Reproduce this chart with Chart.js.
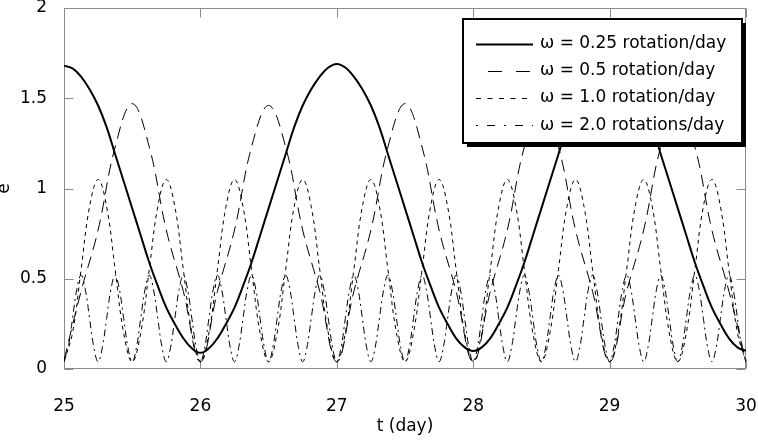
<!DOCTYPE html>
<html lang="en">
<head>
<meta charset="utf-8">
<title>e vs t for four rotation rates</title>
<script src="https://cdn.jsdelivr.net/npm/chart.js"></script>
<style>
  html,body{margin:0;padding:0;background:#fff;}
  #wrap{width:758px;height:446px;overflow:hidden;}
</style>
</head>
<body>
<div id="wrap"><canvas id="c" width="758" height="446"></canvas></div>
<script>
/* ── data ──────────────────────────────────────────────────── */
const T_START = 25;

// ω = 0.25 rotation/day, one value every 1/16 day
const STEP_025 = 0.0625;
const omega025 = [
  1.68, 1.665, 1.62, 1.55, 1.46, 1.34, 1.19, 1.04,
  0.89, 0.74, 0.59, 0.46, 0.34, 0.25, 0.17, 0.115,
  0.09, 0.115, 0.17, 0.25, 0.34, 0.46, 0.59, 0.74,
  0.89, 1.04, 1.19, 1.34, 1.46, 1.55, 1.62, 1.67,
  1.69, 1.67, 1.62, 1.55, 1.46, 1.34, 1.19, 1.04,
  0.89, 0.74, 0.59, 0.46, 0.34, 0.25, 0.17, 0.12,
  0.10, 0.12, 0.17, 0.25, 0.34, 0.46, 0.59, 0.74,
  0.89, 1.04, 1.19, 1.34, 1.46, 1.55, 1.62, 1.665,
  1.68, 1.665, 1.62, 1.55, 1.46, 1.34, 1.19, 1.04,
  0.89, 0.74, 0.59, 0.46, 0.34, 0.25, 0.17, 0.12,
  0.10
];

// ω = 0.5 rotation/day, every 1/8 day
const STEP_05 = 0.125;
const omega05 = [
  0.05, 0.43, 0.77, 1.23, 1.47, 1.23, 0.77, 0.43,
  0.04, 0.43, 0.77, 1.23, 1.46, 1.23, 0.77, 0.43,
  0.04, 0.43, 0.77, 1.23, 1.47, 1.23, 0.77, 0.43,
  0.04, 0.43, 0.77, 1.23, 1.46, 1.23, 0.77, 0.43,
  0.04, 0.43, 0.77, 1.23, 1.46, 1.23, 0.77, 0.43,
  0.04
];

// ω = 1.0 rotation/day, every 1/16 day
const STEP_1 = 0.0625;
const omega1 = [
  0.04, 0.20, 0.55, 0.90, 1.05, 0.90, 0.55, 0.20,
  0.04, 0.20, 0.55, 0.90, 1.05, 0.90, 0.55, 0.20,
  0.04, 0.20, 0.55, 0.90, 1.05, 0.90, 0.55, 0.20,
  0.04, 0.20, 0.55, 0.90, 1.05, 0.90, 0.55, 0.20,
  0.04, 0.20, 0.55, 0.90, 1.05, 0.90, 0.55, 0.20,
  0.04, 0.20, 0.55, 0.90, 1.05, 0.90, 0.55, 0.20,
  0.04, 0.20, 0.55, 0.90, 1.05, 0.90, 0.55, 0.20,
  0.04, 0.20, 0.55, 0.90, 1.05, 0.90, 0.55, 0.20,
  0.04, 0.20, 0.55, 0.90, 1.05, 0.90, 0.55, 0.20,
  0.04, 0.20, 0.55, 0.90, 1.05, 0.90, 0.55, 0.20,
  0.04
];

// ω = 2.0 rotations/day, every 1/32 day
const STEP_2 = 0.03125;
const omega2 = [
  0.04, 0.12, 0.28, 0.44, 0.52, 0.44, 0.28, 0.12,
  0.04, 0.12, 0.28, 0.44, 0.52, 0.44, 0.28, 0.12,
  0.04, 0.12, 0.28, 0.44, 0.52, 0.44, 0.28, 0.12,
  0.04, 0.12, 0.28, 0.44, 0.52, 0.44, 0.28, 0.12,
  0.04, 0.12, 0.28, 0.44, 0.52, 0.44, 0.28, 0.12,
  0.04, 0.12, 0.28, 0.44, 0.52, 0.44, 0.28, 0.12,
  0.04, 0.12, 0.28, 0.44, 0.52, 0.44, 0.28, 0.12,
  0.04, 0.12, 0.28, 0.44, 0.52, 0.44, 0.28, 0.12,
  0.04, 0.12, 0.28, 0.44, 0.52, 0.44, 0.28, 0.12,
  0.04, 0.12, 0.28, 0.44, 0.52, 0.44, 0.28, 0.12,
  0.04, 0.12, 0.28, 0.44, 0.52, 0.44, 0.28, 0.12,
  0.04, 0.12, 0.28, 0.44, 0.52, 0.44, 0.28, 0.12,
  0.04, 0.12, 0.28, 0.44, 0.52, 0.44, 0.28, 0.12,
  0.04, 0.12, 0.28, 0.44, 0.52, 0.44, 0.28, 0.12,
  0.04, 0.12, 0.28, 0.44, 0.52, 0.44, 0.28, 0.12,
  0.04, 0.12, 0.28, 0.44, 0.52, 0.44, 0.28, 0.12,
  0.04, 0.12, 0.28, 0.44, 0.52, 0.44, 0.28, 0.12,
  0.04, 0.12, 0.28, 0.44, 0.52, 0.44, 0.28, 0.12,
  0.04, 0.12, 0.28, 0.44, 0.52, 0.44, 0.28, 0.12,
  0.04, 0.12, 0.28, 0.44, 0.52, 0.44, 0.28, 0.12,
  0.04
];

const labels = [
  'ω = 0.25 rotation/day',
  'ω = 0.5 rotation/day',
  'ω = 1.0 rotation/day',
  'ω = 2.0 rotations/day'
];

const X_MIN = 25, X_MAX = 30, X_STEP = 1;
const Y_MIN = 0,  Y_MAX = 2,  Y_STEP = 0.5;

/* ── helpers ───────────────────────────────────────────────── */
function toPoints(vals, step){
  return vals.map((v,i) => ({x: T_START + i*step, y: v}));
}

const FONT = 'DejaVu Sans';
const TICK = 9;          // inward tick length
const AXIS_GREY = '#8a8a8a';

// chart.js adds tick padding to the scale's own edge padding; drop it
function noEdgePad(s){
  s.paddingTop = s.paddingBottom = s.paddingLeft = s.paddingRight = 0;
}

/* frame + inward ticks, MATLAB style */
const framePlugin = {
  id: 'frame',
  beforeDatasetsDraw(chart){
    const {ctx, chartArea: a, scales: {x, y}} = chart;
    ctx.save();
    ctx.strokeStyle = AXIS_GREY;
    ctx.lineWidth = 1;
    const L = Math.round(a.left)+0.5, R = Math.round(a.right)-0.5;
    const T = Math.round(a.top)+0.5,  B = Math.round(a.bottom)-0.5;
    ctx.strokeRect(L, T, R-L, B-T);
    ctx.beginPath();
    x.ticks.forEach(t => {
      const px = Math.round(x.getPixelForValue(t.value))+0.5;
      ctx.moveTo(px, B); ctx.lineTo(px, B-TICK);
      ctx.moveTo(px, T); ctx.lineTo(px, T+TICK);
    });
    y.ticks.forEach(t => {
      const py = Math.round(y.getPixelForValue(t.value))+0.5;
      ctx.moveTo(L, py); ctx.lineTo(L+TICK, py);
      ctx.moveTo(R, py); ctx.lineTo(R-TICK, py);
    });
    ctx.stroke();
    ctx.restore();
  }
};

/* boxed legend with drop shadow, top right */
const legendPlugin = {
  id: 'boxLegend',
  afterDraw(chart){
    const {ctx} = chart;
    const bx = 463, by = 19, bw = 279, bh = 124, sh = 4;
    ctx.save();
    ctx.fillStyle = '#000';
    ctx.fillRect(bx+sh, by+sh, bw, bh);
    ctx.fillStyle = '#fff';
    ctx.fillRect(bx, by, bw, bh);
    ctx.strokeStyle = '#000';
    ctx.lineWidth = 2;
    ctx.strokeRect(bx, by, bw, bh);

    ctx.font = '17px "' + FONT + '"';
    ctx.textBaseline = 'middle';
    ctx.textAlign = 'left';
    chart.data.datasets.forEach((ds, i) => {
      const yy = 43.5 + i*27.2;
      ctx.beginPath();
      ctx.setLineDash(ds.legendDash || []);
      ctx.lineDashOffset = ds.legendDashOffset || 0;
      ctx.lineWidth = ds.borderWidth;
      ctx.strokeStyle = ds.borderColor;
      ctx.moveTo(476, Math.round(yy)+0.5);
      ctx.lineTo(533, Math.round(yy)+0.5);
      ctx.stroke();
      ctx.setLineDash([]);
      ctx.fillStyle = '#000';
      ctx.fillText(ds.label, 540, yy);
    });
    ctx.restore();
  }
};

/* ── chart ─────────────────────────────────────────────────── */
const common = {
  borderColor: '#000',
  pointRadius: 0,
  fill: false,
  tension: 0.4
};

new Chart(document.getElementById('c'), {
  type: 'line',
  data: {
    datasets: [
      {...common, label: labels[0], data: toPoints(omega025, STEP_025), borderWidth: 2},
      {...common, label: labels[1], data: toPoints(omega05, STEP_05), borderWidth: 1,
       borderDash: [12,7], legendDash: [14,14], legendDashOffset: 16},
      {...common, label: labels[2], data: toPoints(omega1, STEP_1), borderWidth: 1,
       borderDash: [4,4], legendDash: [5,6.5]},
      {...common, label: labels[3], data: toPoints(omega2, STEP_2), borderWidth: 1,
       borderDash: [7,4,2,4], legendDash: [2,9,8,9]}
    ]
  },
  options: {
    responsive: false,
    animation: false,
    events: [],
    layout: {padding: {top: 8, right: 12, left: 0, bottom: 0}},
    plugins: {legend: {display: false}, tooltip: {enabled: false}},
    scales: {
      x: {
        type: 'linear', min: X_MIN, max: X_MAX,
        grid: {display: false, drawTicks: false},
        border: {display: false},
        ticks: {stepSize: X_STEP, padding: 27, color: '#000',
                font: {family: FONT, size: 17}, maxRotation: 0},
        title: {display: true, text: 't (day)', color: '#000',
                font: {family: FONT, size: 17}, padding: {top: 0, bottom: 9}},
        afterFit: s => { s.height = 77; noEdgePad(s); }
      },
      y: {
        type: 'linear', min: Y_MIN, max: Y_MAX,
        grid: {display: false, drawTicks: false},
        border: {display: false},
        ticks: {stepSize: Y_STEP, padding: 17, color: '#000',
                font: {family: FONT, size: 17},
                callback: v => String(v)},
        title: {display: true, text: 'e', color: '#000',
                font: {family: FONT, size: 17}, padding: {top: -6, bottom: 0}},
        afterFit: s => { s.width = 64; noEdgePad(s); }
      }
    }
  },
  plugins: [framePlugin, legendPlugin]
});
</script>
</body>
</html>
